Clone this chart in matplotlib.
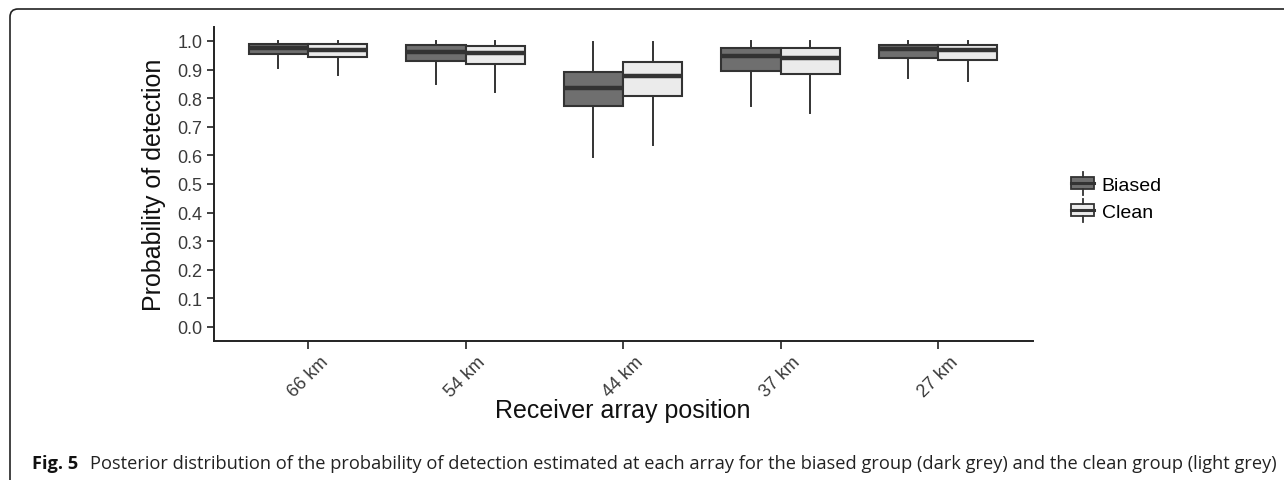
import matplotlib
matplotlib.use("Agg")
import matplotlib.pyplot as plt
from matplotlib.patches import Rectangle, Patch, FancyBboxPatch
from matplotlib.lines import Line2D
from matplotlib.legend_handler import HandlerBase
from matplotlib import font_manager

# data
positions = ["66 km", "54 km", "44 km", "37 km", "27 km"]
groups = ["Biased", "Clean"]

biased_q1 = [0.956, 0.930, 0.772, 0.895, 0.940]
biased_med = [0.975, 0.963, 0.837, 0.947, 0.971]
biased_q3 = [0.991, 0.985, 0.893, 0.977, 0.986]
biased_lo = [0.907, 0.851, 0.596, 0.771, 0.869]
biased_hi = [1.000, 1.000, 0.997, 1.000, 1.000]

clean_q1 = [0.945, 0.918, 0.808, 0.884, 0.934]
clean_med = [0.968, 0.959, 0.877, 0.942, 0.968]
clean_q3 = [0.990, 0.983, 0.928, 0.975, 0.986]
clean_lo = [0.880, 0.823, 0.635, 0.750, 0.859]
clean_hi = [1.000, 1.000, 0.997, 1.000, 1.000]

yticks = [0.0, 0.1, 0.2, 0.3, 0.4, 0.5, 0.6, 0.7, 0.8, 0.9, 1.0]

fills = {"Biased": "#6f6f6f", "Clean": "#ebebeb"}
edge = "#333333"

plt.rcParams['font.family'] = ['Liberation Sans', 'DejaVu Sans']

fig = plt.figure(figsize=(12.84, 4.81), dpi=100)
ax = fig.add_axes([213.5 / 1284, 1 - 342.3 / 481, 819 / 1284, 314.6 / 481])


def make_stats(q1, med, q3, lo, hi):
    return [dict(q1=a, med=b, q3=c, whislo=d, whishi=e, fliers=[])
            for a, b, c, d, e in zip(q1, med, q3, lo, hi)]


w = 0.375
xs = list(range(1, len(positions) + 1))
for g, stats, off in [("Biased", make_stats(biased_q1, biased_med, biased_q3, biased_lo, biased_hi), -w / 2),
                      ("Clean", make_stats(clean_q1, clean_med, clean_q3, clean_lo, clean_hi), w / 2)]:
    ax.bxp(stats, positions=[x + off for x in xs], widths=w, patch_artist=True,
           showcaps=False, showfliers=False, manage_ticks=False,
           boxprops=dict(facecolor=fills[g], edgecolor=edge, linewidth=1.5),
           whiskerprops=dict(color=edge, linewidth=1.4),
           medianprops=dict(color=edge, linewidth=3.2, solid_capstyle='butt'))

ax.set_xlim(0.4, 5.6)
ax.set_ylim(-0.05, 1.05)
ax.set_yticks(yticks)
ax.set_yticklabels(["%.1f" % v for v in yticks])
ax.set_xticks(xs)
ax.set_xticklabels(positions, rotation=45, ha='center', va='top')

for s in ['top', 'right']:
    ax.spines[s].set_visible(False)
for s in ['left', 'bottom']:
    ax.spines[s].set_linewidth(1.4)
    ax.spines[s].set_color('#222222')
ax.tick_params(axis='both', length=5, width=1.3, color='#333333', labelsize=13, labelcolor='#3a3a3a')
ax.tick_params(axis='y', pad=3)
ax.tick_params(axis='x', length=6, pad=2.5)

ax.set_ylabel("Probability of detection", fontsize=18, color='#111111', labelpad=8)
ax.set_xlabel("Receiver array position", fontsize=18, color='#111111', va='center')
ax.xaxis.set_label_coords(0.5, -(411 - 342.3) / 314.6)


class BoxKey(HandlerBase):
    def create_artists(self, legend, orig_handle, xdescent, ydescent, width, height, fontsize, trans):
        cx = width / 2 - xdescent
        cy = height / 2 - ydescent
        bw, bh, wl = 17, 8.6, 4
        r = Rectangle((cx - bw / 2, cy - bh / 2), bw, bh, facecolor=orig_handle.get_facecolor(),
                      edgecolor=edge, linewidth=1.3, transform=trans)
        m = Line2D([cx - bw / 2, cx + bw / 2], [cy, cy], color=edge, linewidth=2.2, transform=trans)
        w1 = Line2D([cx, cx], [cy + bh / 2, cy + bh / 2 + wl], color=edge, linewidth=1.3, transform=trans)
        w2 = Line2D([cx, cx], [cy - bh / 2, cy - bh / 2 - wl], color=edge, linewidth=1.3, transform=trans)
        return [r, m, w1, w2]


handles = [Patch(facecolor=fills[g]) for g in groups]
fig.legend(handles, groups, handler_map={Patch: BoxKey()}, loc='center left',
           bbox_to_anchor=(1053 / 1284, 1 - 198 / 481), frameon=False, fontsize=14,
           handlelength=1.25, handleheight=1.2, handletextpad=0.35, labelspacing=0.35)

# caption
names = {f.name for f in font_manager.fontManager.ttflist}
cap_font = 'Liberation Sans Narrow' if 'Liberation Sans Narrow' in names else 'Open Sans'
t1 = fig.text(32 / 1284, 17 / 481, "Fig. 5", fontsize=12, fontweight='bold', family=cap_font,
              va='center', ha='left', color='#111111')
t2 = fig.text(90 / 1284, 17 / 481,
              "Posterior distribution of the probability of detection estimated at each array for the biased group (dark grey) and the clean group (light grey)",
              fontsize=12, family=cap_font, va='center', ha='left', color='#222222')
fig.canvas.draw()
r = fig.canvas.get_renderer()
target = 1272 - 90
scale = target / t2.get_window_extent(r).width
t2.set_fontsize(12 * scale)
t1.set_fontsize(12 * scale)

# page frame with rounded corner
frame = FancyBboxPatch((10, -20), 1400, 491, boxstyle="round,pad=0,rounding_size=8",
                       transform=None, facecolor='none', edgecolor='#222222', linewidth=1.2)
fig.patches.append(frame)

fig.savefig("out.png", dpi=100)
